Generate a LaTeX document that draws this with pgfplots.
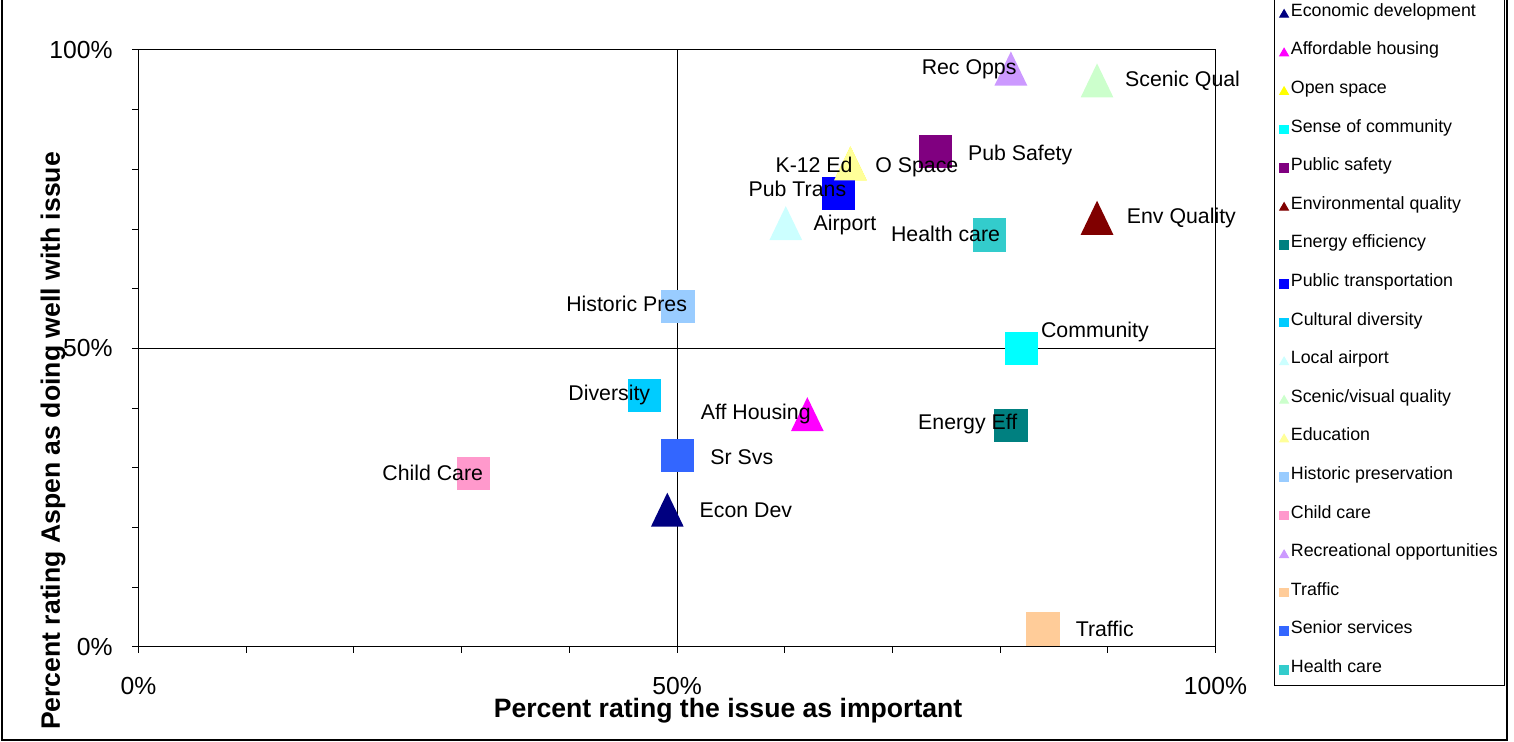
\documentclass[border=0pt]{standalone}
\usepackage{pgfplots}
\pgfplotsset{compat=1.18}
\usepackage{fontspec}
\setmainfont{Liberation Sans}

\definecolor{cEcon}{HTML}{000080}
\definecolor{cAff}{HTML}{FF00FF}
\definecolor{cOpen}{HTML}{FFFF00}
\definecolor{cComm}{HTML}{00FFFF}
\definecolor{cSafe}{HTML}{800080}
\definecolor{cEnv}{HTML}{800000}
\definecolor{cEnergy}{HTML}{008080}
\definecolor{cTrans}{HTML}{0000FF}
\definecolor{cDiv}{HTML}{00CCFF}
\definecolor{cAir}{HTML}{CCFFFF}
\definecolor{cScenic}{HTML}{CCFFCC}
\definecolor{cEdu}{HTML}{FFFF99}
\definecolor{cHist}{HTML}{99CCFF}
\definecolor{cChild}{HTML}{FF99CC}
\definecolor{cRec}{HTML}{CC99FF}
\definecolor{cTraffic}{HTML}{FFCC99}
\definecolor{cSenior}{HTML}{3366FF}
\definecolor{cHealth}{HTML}{33CCCC}

\pgfdeclareplotmark{xlsq}{%
  \pgfpathrectangle{\pgfqpoint{-\pgfplotmarksize}{-\pgfplotmarksize}}{\pgfqpoint{2\pgfplotmarksize}{2\pgfplotmarksize}}%
  \pgfusepathqfill}
\pgfdeclareplotmark{xltri}{%
  \pgfpathmoveto{\pgfqpoint{0pt}{1.04\pgfplotmarksize}}%
  \pgfpathlineto{\pgfqpoint{-\pgfplotmarksize}{-1.04\pgfplotmarksize}}%
  \pgfpathlineto{\pgfqpoint{\pgfplotmarksize}{-1.04\pgfplotmarksize}}%
  \pgfpathclose\pgfusepathqfill}
\pgfdeclareplotmark{nomark}{}

\pgfplotsset{
  sq/.style={only marks, mark=xlsq, mark size=8.375pt, color=#1,
    legend image code/.code={\draw[##1, mark size=2.4pt] plot coordinates {(0pt,-1pt)};}},
  tri/.style={only marks, mark=xltri, mark size=8.2pt, color=#1,
    legend image code/.code={\draw[##1, mark=triangle*, mark size=2.5pt] plot coordinates {(0pt,-1.5pt)};}},
  lbl/.style n args={4}{forget plot, only marks, mark=nomark, black,
    nodes near coords={#1},
    every node near coord/.style={anchor=#2, xshift=#3pt, yshift=#4pt, inner sep=0pt,
      text height=7.6pt, text depth=0pt, font=\fontsize{10.65}{12}\selectfont, black}},
}

\begin{document}
\begin{tikzpicture}
\path[use as bounding box] (-69.25pt,-47.5pt) rectangle (687.75pt,323.5pt);
\draw[line width=1pt] (-68.25pt,330pt) -- (-68.25pt,-46.75pt) -- (684.25pt,-46.75pt) -- (684.25pt,330pt);
\begin{axis}[
  at={(0pt,0pt)}, anchor=south west,
  width=538.5pt, height=298.5pt, scale only axis,
  xmin=0, xmax=100, ymin=0, ymax=100,
  xtick={0,10,...,100}, ytick={0,10,...,100},
  xticklabels={0\%,,,,,50\%,,,,,100\%},
  yticklabels={0\%,,,,,50\%,,,,,100\%},
  tick align=outside, tick pos=left, major tick length=3pt,
  tick style={black, line width=0.5pt},
  axis line style={black, line width=0.5pt},
  tick label style={font=\fontsize{12.35}{14}\selectfont, inner sep=0pt},
  xticklabel style={anchor=base, yshift=-21pt},
  yticklabel style={anchor=east, xshift=-9.75pt},
  /pgf/number format/assume math mode=true,
  label style={font=\fontsize{13.3}{15}\selectfont\bfseries},
  xlabel={Percent rating the issue as important},
  ylabel={Percent rating Aspen as doing well with issue},
  xlabel style={at={(axis description cs:0.5474,-0.1178)}, anchor=base},
  ylabel style={at={(axis description cs:-0.0729,0.345)}, anchor=base},
  legend style={at={(1.0543,-0.0653)}, anchor=south west, draw=black, line width=0.5pt, fill=white,
    inner xsep=2.4pt, inner ysep=4.7pt, row sep=11.1pt, column sep=0pt,
    nodes={inner xsep=1pt, inner ysep=0pt, text height=6.4pt, text depth=1.8pt, font=\fontsize{8.9}{10}\selectfont},
    cells={anchor=west}},
  legend cell align=left,
]
\addplot[black, line width=0.5pt, forget plot] coordinates {(50,0) (50,100)};
\addplot[black, line width=0.5pt, forget plot] coordinates {(0,50) (100,50)};

\addplot[tri=cEcon] coordinates {(49.1,23.0)};
\addlegendentry{Economic development}
\addplot[tri=cAff] coordinates {(62.1,39.0)};
\addlegendentry{Affordable housing}
\addplot[tri=cOpen] coordinates {(66.1,81.0)};
\addlegendentry{Open space}
\addplot[sq=cComm] coordinates {(82.0,50.0)};
\addlegendentry{Sense of community}
\addplot[sq=cSafe] coordinates {(74.0,83.0)};
\addlegendentry{Public safety}
\addplot[tri=cEnv] coordinates {(89.0,71.9)};
\addlegendentry{Environmental quality}
\addplot[sq=cEnergy] coordinates {(81.0,37.1)};
\addlegendentry{Energy efficiency}
\addplot[sq=cTrans] coordinates {(65.0,76.0)};
\addlegendentry{Public transportation}
\addplot[sq=cDiv] coordinates {(47.0,42.1)};
\addlegendentry{Cultural diversity}
\addplot[tri=cAir] coordinates {(60.1,71.0)};
\addlegendentry{Local airport}
\addplot[tri=cScenic] coordinates {(89.0,94.9)};
\addlegendentry{Scenic/visual quality}
\addplot[tri=cEdu] coordinates {(66.1,81.0)};
\addlegendentry{Education}
\addplot[sq=cHist] coordinates {(50.1,57.0)};
\addlegendentry{Historic preservation}
\addplot[sq=cChild] coordinates {(31.1,29.1)};
\addlegendentry{Child care}
\addplot[tri=cRec] coordinates {(81.0,96.9)};
\addlegendentry{Recreational opportunities}
\addplot[sq=cTraffic] coordinates {(84.0,3.05)};
\addlegendentry{Traffic}
\addplot[sq=cSenior] coordinates {(50.05,32.1)};
\addlegendentry{Senior services}
\addplot[sq=cHealth] coordinates {(79.0,69.0)};
\addlegendentry{Health care}

% data labels (drawn last, on top of all markers)
\addplot[lbl={Econ Dev}{west}{16}{-0.15}] coordinates {(49.1,23.0)};
\addplot[lbl={Aff Housing}{east}{1.85}{1.25}] coordinates {(62.1,39.0)};
\addplot[lbl={O Space}{west}{12.3}{-0.65}] coordinates {(66.1,81.0)};
\addplot[lbl={Community}{west}{9.5}{9.25}] coordinates {(82.0,50.0)};
\addplot[lbl={Pub Safety}{west}{16.1}{-0.8}] coordinates {(74.0,83.0)};
\addplot[lbl={Env Quality}{west}{14.75}{1.05}] coordinates {(89.0,71.9)};
\addplot[lbl={Energy Eff}{east}{3.4}{2.05}] coordinates {(81.0,37.1)};
\addplot[lbl={Pub Trans}{east}{4}{2.15}] coordinates {(65.0,76.0)};
\addplot[lbl={Diversity}{east}{2.9}{1.25}] coordinates {(47.0,42.1)};
\addplot[lbl={Airport}{west}{13.75}{0}] coordinates {(60.1,71.0)};
\addplot[lbl={Scenic Qual}{west}{13.85}{0.65}] coordinates {(89.0,94.9)};
\addplot[lbl={K-12 Ed}{east}{1.25}{-0.65}] coordinates {(66.1,81.0)};
\addplot[lbl={Historic Pres}{east}{4.65}{1.35}] coordinates {(50.1,57.0)};
\addplot[lbl={Child Care}{east}{5}{0.4}] coordinates {(31.1,29.1)};
\addplot[lbl={Rec Opps}{east}{3}{0.8}] coordinates {(81.0,96.9)};
\addplot[lbl={Traffic}{west}{16.1}{-0.25}] coordinates {(84.0,3.05)};
\addplot[lbl={Sr Svs}{west}{16.25}{-0.6}] coordinates {(50.05,32.1)};
\addplot[lbl={Health care}{east}{5.55}{0.35}] coordinates {(79.0,69.0)};
\end{axis}
\end{tikzpicture}
\end{document}
